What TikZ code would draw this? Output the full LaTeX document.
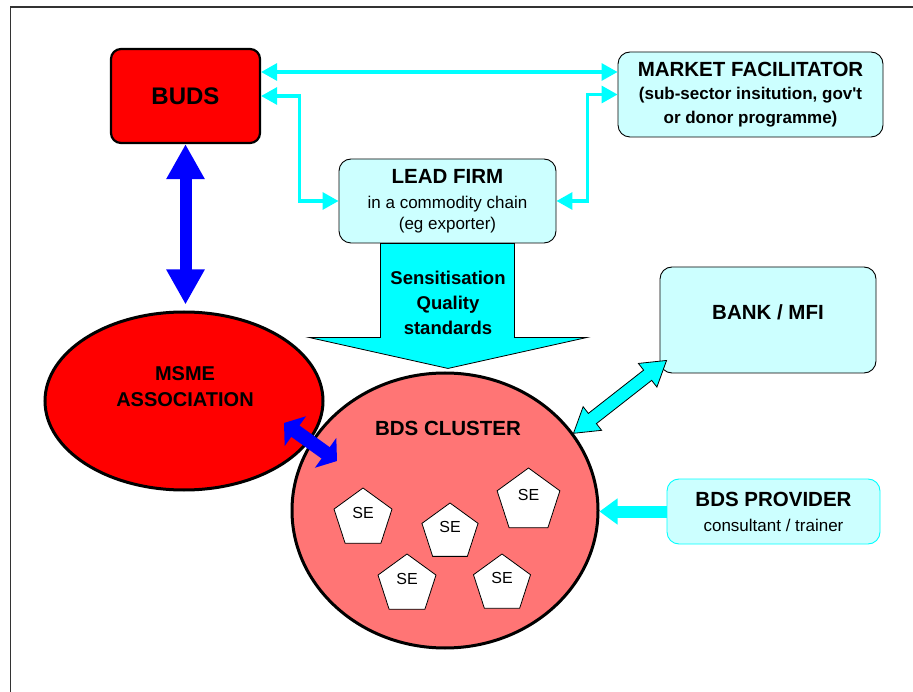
\documentclass[tikz,border=0pt]{standalone}
\usepackage{fontspec}
\setmainfont{Liberation Sans}
\usetikzlibrary{arrows.meta,calc,positioning,shapes.geometric}
\definecolor{BudsRed}{HTML}{FF0000}
\definecolor{ClusterPink}{HTML}{FF7575}
\definecolor{PaleCyan}{HTML}{CCFFFF}
\definecolor{LinkCyan}{HTML}{00FFFF}
\definecolor{TieBlue}{HTML}{0000FF}
\tikzset{
  frame/.style={draw=black!80,line width=1.3pt},
  redbox/.style={draw=black,line width=2.2pt,fill=BudsRed,rounded corners=10pt},
  palebox/.style={draw=black,line width=.9pt,fill=PaleCyan,rounded corners=12pt},
  blob/.style={ellipse,draw=black,line width=3pt,inner sep=0pt},
  firm/.style={regular polygon,regular polygon sides=5,draw=black,line width=.8pt,fill=white,
    inner sep=0pt,font=\fontsize{16}{18}\selectfont,text depth=12pt},
  hd/.style={font=\fontsize{20.5}{25}\selectfont\bfseries},
  link/.style={{Triangle[length=16pt,width=17pt]}-{Triangle[length=16pt,width=17pt]},
    draw=LinkCyan,line width=3.2pt},
  tie/.style={{Triangle[length=35pt,width=36pt]}-{Triangle[length=35pt,width=36pt]},
    draw=TieBlue,line width=12pt},
  tieshort/.style={{Triangle[length=14pt,width=36pt]}-{Triangle[length=14pt,width=36pt]},
    draw=TieBlue,line width=14pt},
  feed/.style={-{Triangle[length=18pt,width=25pt]},draw=LinkCyan,line width=12pt},
  push/.style={draw=black,line width=.8pt,fill=LinkCyan}
}
\begin{document}
\begin{tikzpicture}[x=1pt,y=-1pt]
  \useasboundingbox (0,0) rectangle (913,692);
  \draw[frame] (10.5,692) -- (10.5,7) -- (913,7);

  % top row
  \node[redbox,minimum width=149pt,minimum height=94pt,font=\fontsize{24}{28}\selectfont\bfseries]
    (buds) at (185.5,96) {BUDS};
  \node[palebox,minimum width=265pt,minimum height=85pt,align=center,
    font=\fontsize{17}{23.5}\selectfont\bfseries] (market) at (750.5,94.5)
    {{\fontsize{20.5}{23.5}\selectfont MARKET FACILITATOR}\\(sub-sector insitution, gov\textquotesingle t\\or donor programme)};
  \node[palebox,minimum width=217pt,minimum height=84pt,align=center,
    font=\fontsize{17}{21}\selectfont] (lead) at (447.5,201)
    {{\fontsize{20.5}{23.5}\selectfont\bfseries LEAD FIRM}\\[3.5pt]in a commodity chain\\(eg exporter)};

  % links between the three
  \coordinate (budsHi) at ([yshift=24pt]buds.east);
  \draw[link] (budsHi) -- (budsHi -| market.west);
  \draw[link] (buds.east) -- ++(38,0) |- (lead.west);
  \draw[link] (market.west) -- ++(-30,0) |- (lead.east);

  % big arrow down from the lead firm
  \begin{scope}[shift={(lead.south)}]
    \draw[push] (-67,0) -- (-67,94) -- (-138.5,94) -- (0.5,125) -- (139.5,94) -- (67,94) -- (67,0) -- cycle;
  \end{scope}
  \node[hd,align=center,font=\fontsize{18.5}{25}\selectfont\bfseries] (msg) at (448,302.5)
    {Sensitisation\\Quality\\standards};

  % right column
  \node[palebox,minimum width=216pt,minimum height=106pt,hd,text depth=16pt] (bank) at (768,320) {BANK / MFI};
  \node[palebox,draw=LinkCyan,minimum width=213pt,minimum height=65pt,align=center,
    font=\fontsize{17}{25}\selectfont] (prov) at (773.5,511.5)
    {{\fontsize{20.5}{25}\selectfont\bfseries BDS PROVIDER}\\consultant / trainer};

  % association and cluster
  \node[blob,fill=BudsRed,minimum width=278pt,minimum height=178pt] (msme) at (184,401) {};
  \node[hd,align=center,font=\fontsize{20}{26.7}\selectfont\bfseries] (msmeT) at (185,386.7) {MSME\\ASSOCIATION};
  \node[blob,fill=ClusterPink,minimum width=306pt,minimum height=275pt] (cluster) at (445,510.5) {};
  \node[hd] (clusterT) at (448,428) {BDS CLUSTER};
  \foreach \n/\x/\y/\r in {1/363/518.5/61,2/450/532.5/59,3/528.5/501/66,4/407/584.5/61,5/502/584/60}
    \node[firm,minimum size=\r pt] (se\n) at (\x,\y) {SE};

  % arrows
  \coordinate (msmeTop) at (buds.south |- msme.north);
  \draw[tie] (buds.south) -- ([yshift=6pt]msmeTop);
  \coordinate (tieA) at (284,423);
  \coordinate (tieB) at (337,461);
  \draw[tieshort] (tieA) -- (tieB);

  \coordinate (bkA) at (cluster.31);
  \coordinate (bkB) at ([shift={(7pt,13pt)}]bank.south west);
  \draw[push] (bkA) -- ($(bkA)!24pt!(bkB)!15pt!90:(bkB)$) -- ($(bkA)!24pt!(bkB)!6.5pt!90:(bkB)$)
    -- ($(bkB)!24pt!(bkA)!6.5pt!-90:(bkA)$) -- ($(bkB)!24pt!(bkA)!15pt!-90:(bkA)$) -- (bkB)
    -- ($(bkB)!24pt!(bkA)!15pt!90:(bkA)$) -- ($(bkB)!24pt!(bkA)!6.5pt!90:(bkA)$)
    -- ($(bkA)!24pt!(bkB)!6.5pt!-90:(bkB)$) -- ($(bkA)!24pt!(bkB)!15pt!-90:(bkB)$) -- cycle;

  \draw[feed] (prov.west) -- (prov.west -| cluster.east);
\end{tikzpicture}
\end{document}
